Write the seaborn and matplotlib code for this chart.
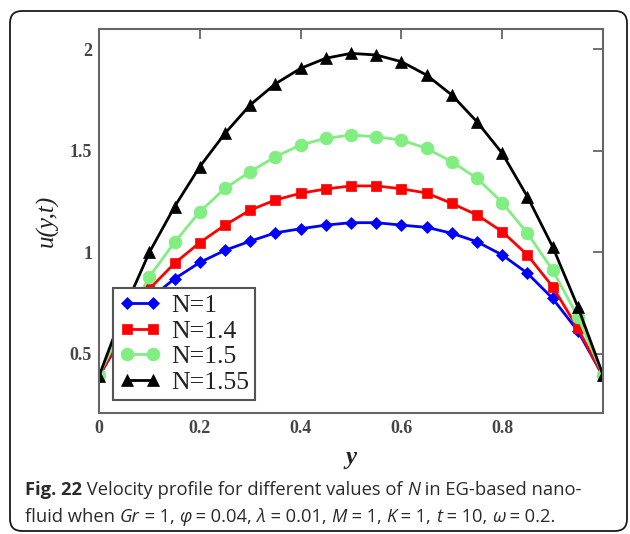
import numpy as np
import pandas as pd
import matplotlib
matplotlib.use("Agg")
import matplotlib.pyplot as plt
import seaborn as sns
from matplotlib.patches import FancyBboxPatch
from matplotlib.transforms import IdentityTransform

# ---------------- data ----------------
y_pos = [0.00, 0.05, 0.10, 0.15, 0.20, 0.25, 0.30, 0.35, 0.40, 0.45, 0.50,
         0.55, 0.60, 0.65, 0.70, 0.75, 0.80, 0.85, 0.90, 0.95, 1.00]
u_n1 = [0.39, 0.60, 0.77, 0.87, 0.95, 1.01, 1.055, 1.096, 1.116, 1.134, 1.146,
        1.146, 1.134, 1.123, 1.094, 1.052, 0.987, 0.897, 0.773, 0.613, 0.39]
u_n14 = [0.39, 0.61, 0.82, 0.946, 1.048, 1.134, 1.208, 1.258, 1.291, 1.312, 1.327,
         1.327, 1.313, 1.292, 1.241, 1.184, 1.102, 0.987, 0.831, 0.626, 0.39]
u_n15 = [0.395, 0.65, 0.88, 1.05, 1.20, 1.315, 1.397, 1.471, 1.529, 1.561, 1.578,
         1.569, 1.553, 1.512, 1.446, 1.365, 1.245, 1.094, 0.913, 0.683, 0.395]
u_n155 = [0.39, 0.72, 1.00, 1.225, 1.422, 1.586, 1.726, 1.830, 1.906, 1.956, 1.980,
          1.972, 1.939, 1.873, 1.775, 1.643, 1.488, 1.274, 1.028, 0.732, 0.396]
labels = ["N=1", "N=1.4", "N=1.5", "N=1.55"]
x_ticks = [0, 0.2, 0.4, 0.6, 0.8]
x_ticklabels = ["0", "0.2", "0.4", "0.6", "0.8"]
y_ticks = [0.5, 1.0, 1.5, 2.0]
y_ticklabels = ["0.5", "1", "1.5", "2"]

series = [u_n1, u_n14, u_n15, u_n155]
colors = ["#0000ff", "#ff0000", "#80ee80", "#000000"]
markers = ["D", "s", "o", "^"]
msizes = [6.3, 7.8, 9.2, 8.3]

sns.set_style("white")
plt.rcParams["font.family"] = ["Liberation Serif", "DejaVu Serif"]

W, H = 630, 534
fig = plt.figure(figsize=(W / 100, H / 100), dpi=100)

# rounded frame
frame = FancyBboxPatch((10, 3), 617, 520, boxstyle="round,pad=0,rounding_size=12",
                       transform=IdentityTransform(), facecolor="none",
                       edgecolor="#1a1a1a", linewidth=1.3)
fig.patches.append(frame)

ax = fig.add_axes([99 / W, 1 - 412.7 / H, 504 / W, 383.7 / H])
for vals, c, m, ms, lab in zip(series, colors, markers, msizes, labels):
    sns.lineplot(x=y_pos, y=vals, ax=ax, color=c, marker=m, markersize=ms,
                 markeredgecolor=c, markerfacecolor=c, markeredgewidth=0.5,
                 linewidth=2.0, label=lab)

ax.set_xlim(0, 1)
ax.set_ylim(0.21, 2.1)
ax.set_xticks(x_ticks)
ax.set_xticklabels(x_ticklabels)
ax.set_yticks(y_ticks)
ax.set_yticklabels(y_ticklabels)
for s in ax.spines.values():
    s.set_color("#666666")
    s.set_linewidth(1.5)
    s.set_visible(True)
ax.tick_params(direction="in", length=7, width=1.3, color="#666666",
               top=True, right=True, labelsize=13, labelcolor="#454545", pad=5)
for t in ax.get_xticklabels() + ax.get_yticklabels():
    t.set_fontweight("bold")

ax.set_xlabel("y", fontsize=18, style="italic", fontweight="bold", color="#222222", labelpad=7)
ax.set_ylabel("u(y,t)", fontsize=18, style="italic", color="#222222", labelpad=8)

leg = ax.legend(loc="lower left", bbox_to_anchor=(0.028, 0.033), borderaxespad=0,
                fancybox=False, framealpha=1, edgecolor="#555555", fontsize=18.5,
                numpoints=2, handlelength=1.6, handletextpad=0.4, labelspacing=0.1,
                borderpad=0.25)
leg.get_frame().set_linewidth(1.5)
leg.set_zorder(10)
for t in leg.get_texts():
    t.set_color("#222222")

# caption with mixed styles
fig.canvas.draw()
renderer = fig.canvas.get_renderer()
cap_font = "Open Sans"
cap_size = 13.2
cap_color = "#2b2b2b"


def draw_runs(runs, x0, y0):
    x = x0
    for txt, style, weight in runs:
        t = fig.text(x, y0, txt, transform=IdentityTransform(), ha="left", va="baseline",
                     fontsize=cap_size, family=[cap_font, "DejaVu Sans"], style=style,
                     weight=weight, color=cap_color)
        bb = t.get_window_extent(renderer)
        x = bb.x1


eq = "\u2005=\u2005"
line1 = [("Fig. 22", "normal", "bold"),
         (" Velocity profile for different values of ", "normal", "normal"),
         ("N", "italic", "normal"),
         (" in EG-based nano-", "normal", "normal")]
line2 = [("fluid when ", "normal", "normal"), ("Gr", "italic", "normal"),
         (eq + "1, ", "normal", "normal"), ("φ", "italic", "normal"),
         (eq + "0.04, ", "normal", "normal"), ("λ", "italic", "normal"),
         (eq + "0.01, ", "normal", "normal"), ("M", "italic", "normal"),
         (eq + "1, ", "normal", "normal"), ("K", "italic", "normal"),
         (eq + "1, ", "normal", "normal"), ("t", "italic", "normal"),
         (eq + "10, ", "normal", "normal"), ("ω", "italic", "normal"),
         (eq + "0.2.", "normal", "normal")]
draw_runs(line1, 25, H - 495)
draw_runs(line2, 25, H - 521.5)

fig.savefig("out.png", dpi=100)
